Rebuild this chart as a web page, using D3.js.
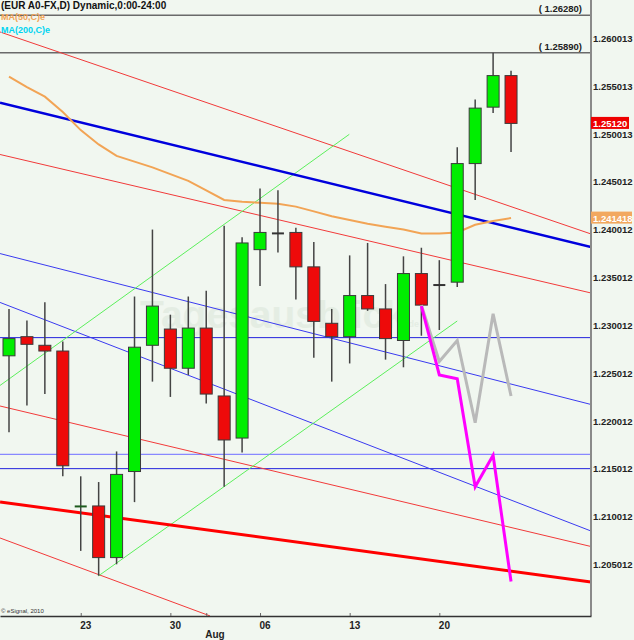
<!DOCTYPE html>
<html><head><meta charset="utf-8">
<script src="https://cdn.jsdelivr.net/npm/d3@7"></script>
<style>body{margin:0;background:#f1f7f0;} svg{display:block;}</style>
</head><body><svg id="c" width="634" height="640"></svg>
<script>
// ---------- data ----------
const dates = ["Jul 17","Jul 18","Jul 19","Jul 20","Jul 23","Jul 24","Jul 25","Jul 26","Jul 27","Jul 30","Jul 31",
  "Aug 01","Aug 02","Aug 03","Aug 06","Aug 07","Aug 08","Aug 09","Aug 10","Aug 13","Aug 14","Aug 15","Aug 16","Aug 17",
  "Aug 20","Aug 21","Aug 22","Aug 23","Aug 24"];
const open  = [1.2272,1.2292,1.2283,1.2277,1.2114,1.2115,1.2061,1.2151,1.2283,1.2300,1.2259,1.2301,1.2230,1.2186,1.2383,1.2400,1.2401,1.2365,1.2306,1.2292,1.2335,1.2321,1.2288,1.2358,1.2346,1.2349,1.2473,1.2532,1.2565];
const high  = [1.2321,1.2309,1.2328,1.2287,1.2146,1.2140,1.2172,1.2334,1.2404,1.2315,1.2334,1.2340,1.2408,1.2396,1.2447,1.2445,1.2406,1.2391,1.2321,1.2377,1.2390,1.2347,1.2376,1.2385,1.2372,1.2490,1.2540,1.2589,1.2570];
const low   = [1.2192,1.2220,1.2232,1.2146,1.2068,1.2042,1.2054,1.2119,1.2245,1.2229,1.2252,1.2222,1.2135,1.2171,1.2345,1.2380,1.2331,1.2270,1.2245,1.2264,1.2319,1.2268,1.2260,1.2293,1.2299,1.2344,1.2435,1.2526,1.2485];
const close = [1.2290,1.2284,1.2277,1.2157,1.2115,1.2061,1.2148,1.2281,1.2324,1.2259,1.2301,1.2232,1.2184,1.2390,1.2401,1.2400,1.2365,1.2308,1.2292,1.2335,1.2321,1.2290,1.2358,1.2325,1.2346,1.2473,1.2531,1.2565,1.2515];
const ma50  = [1.2564,1.2553,1.2543,1.2527,1.2508,1.2493,1.2481,1.2475,1.2469,1.2462,1.2455,1.2445,1.2435,1.2433,1.2432,1.2431,1.2428,1.2423,1.2418,1.2414,1.2410,1.2407,1.2404,1.2400,1.2400,1.2401,1.2409,1.2413,1.2416];

const forecastIdx   = [23,24,25,26,27,28];
const forecastPink  = [1.2324,1.2252,1.2248,1.2135,1.2168,1.2036];
const forecastGray  = [1.2325,1.2266,1.2288,1.2202,1.2316,1.2230];

// trend lines: [index1, price1, index2, price2]
const trendRed      = [[-0.5,1.26106,32.46,1.23994],[-0.5,1.24825,32.46,1.23377],[-0.5,1.22195,32.46,1.20726],[-0.5,1.20815,11.21,1.20000]];
const trendRedBold  = [[-0.5,1.21192,32.46,1.20355]];
const trendBlueBold = [[-0.5,1.25367,32.46,1.23858]];
const trendBlue     = [[-0.5,1.23789,32.46,1.22211],[-0.5,1.23278,32.46,1.20888]];
const trendGreen    = [[-0.5,1.22410,18.98,1.25036],[5,1.2042,25,1.23084]];
const hLinesBlue    = [1.2291,1.2154];
const hLinesLight   = [1.2169];
const levels        = [1.26280,1.25890];
const levelLabels   = ["( 1.26280)","( 1.25890)"];

const yTickLabels = ["1.260013","1.255013","1.250013","1.245012","1.240012","1.235012","1.230012","1.225012","1.220012","1.215012","1.210012","1.205012"];
const xTickIdx    = [4,9,11,14,19,24];
const xTickLabels = ["23","30","","06","13","20"];
const lastCloseLabel = "1.25120";
const maLabel = "1.241418";

// ---------- scales ----------
const W = 591, B = 616;
const x = d3.scaleLinear().domain([-0.502, 32.46]).range([0, W]);
const y = d3.scaleLinear().domain([1.205012, 1.260013]).range([568, 42]);

const svg = d3.select("#c");
svg.append("rect").attr("width",634).attr("height",640).attr("fill","#f1f7f0");
svg.append("defs").append("clipPath").attr("id","clip").append("rect").attr("x",0).attr("y",0).attr("width",W).attr("height",B);

const font = "'Liberation Sans', Arial, sans-serif";

// watermark
const wm = svg.append("text").attr("x",140).attr("y",328)
  .attr("font-family",font).attr("font-weight","bold").attr("fill","#dbe6da").attr("opacity",0.55);
wm.append("tspan").attr("font-size",39).text("Tagesausblick");
wm.append("tspan").attr("font-size",9).attr("dy",-1).text(".de");

const plot = svg.append("g").attr("clip-path","url(#clip)");

// level lines
levels.forEach(v => plot.append("line").attr("x1",0).attr("x2",W).attr("y1",y(v)).attr("y2",y(v)).attr("stroke","#6a6a6a").attr("stroke-width",1.5));

function drawTrend(arr, color, w) {
  arr.forEach(t => plot.append("line").attr("x1",x(t[0])).attr("y1",y(t[1])).attr("x2",x(t[2])).attr("y2",y(t[3]))
    .attr("stroke",color).attr("stroke-width",w));
}
hLinesBlue.forEach(v => plot.append("line").attr("x1",0).attr("x2",W).attr("y1",y(v)).attr("y2",y(v)).attr("stroke","#2222dd").attr("stroke-width",1));
hLinesLight.forEach(v => plot.append("line").attr("x1",0).attr("x2",W).attr("y1",y(v)).attr("y2",y(v)).attr("stroke","#8888ff").attr("stroke-width",1.2));
drawTrend(trendRed, "#f23a3a", 1);
drawTrend(trendBlue, "#3a3af0", 1);
drawTrend(trendGreen, "#5cef5c", 1);
drawTrend(trendBlueBold, "#0000dd", 2.5);
drawTrend(trendRedBold, "#ff0000", 3);

// MA50
plot.append("path").datum(ma50).attr("fill","none").attr("stroke","#f2a455").attr("stroke-width",2)
  .attr("d", d3.line().x((d,i)=>x(i)).y(d=>y(d)));

// candles
const cg = plot.append("g");
dates.forEach((d,i) => {
  const cx = x(i);
  cg.append("line").attr("x1",cx).attr("x2",cx).attr("y1",y(high[i])).attr("y2",y(low[i])).attr("stroke","#444").attr("stroke-width",1.5);
  const up = close[i] >= open[i];
  const top = y(Math.max(open[i],close[i])), bot = y(Math.min(open[i],close[i]));
  if (bot - top < 2) {
    cg.append("line").attr("x1",cx-6).attr("x2",cx+6).attr("y1",(top+bot)/2).attr("y2",(top+bot)/2)
      .attr("stroke", up && close[i] > open[i] ? "#1d5a1d" : "#333").attr("stroke-width",2);
  } else {
    cg.append("rect").attr("x",cx-6).attr("y",top).attr("width",12).attr("height",bot-top)
      .attr("fill", up ? "#00ee00" : "#ee0a0a").attr("stroke","#3a3a3a").attr("stroke-width",1);
  }
});

// forecasts
const fl = d3.line().x(d=>x(d[0])).y(d=>y(d[1]));
plot.append("path").datum(forecastIdx.map((k,j)=>[k,forecastGray[j]])).attr("fill","none").attr("stroke","#b9b9b9").attr("stroke-width",3).attr("d",fl);
plot.append("path").datum(forecastIdx.map((k,j)=>[k,forecastPink[j]])).attr("fill","none").attr("stroke","#ff00ff").attr("stroke-width",3).attr("d",fl);

// level labels
levels.forEach((v,k) => svg.append("text").attr("x",582).attr("y",y(v)-3).attr("text-anchor","end")
  .attr("font-family",font).attr("font-weight","bold").attr("font-size",9.5).attr("fill","#222").text(levelLabels[k]));

// right axis
svg.append("line").attr("x1",W).attr("x2",W).attr("y1",0).attr("y2",B).attr("stroke","#8a8a8a").attr("stroke-width",2);
const yAxis = d3.axisRight(y).tickValues(yTickLabels.map(Number)).tickFormat((d,k)=>yTickLabels[k]).tickSize(0).tickPadding(1);
const ya = svg.append("g").attr("transform",`translate(${W+1},0)`).call(yAxis);
ya.select(".domain").remove();
ya.selectAll("text").attr("font-family",font).attr("font-weight","bold").attr("font-size",9.5).attr("fill","#222").attr("dy","-0.05em");

// value boxes
function box(v, label, color, w) {
  const cy = y(v);
  svg.append("rect").attr("x",W).attr("y",cy-6.5).attr("width",w).attr("height",12).attr("fill",color);
  svg.append("text").attr("x",W+2).attr("y",cy+3.5).attr("font-family",font).attr("font-weight","bold").attr("font-size",9.5).attr("fill","#fff").text(label);
}
box(close[close.length-1], lastCloseLabel, "#ee0000", 38);
box(ma50[ma50.length-1], maLabel, "#f2a860", 41);

// bottom axis
const xAxis = d3.axisBottom(x).tickValues(xTickIdx).tickFormat((d,k)=>xTickLabels[k]).tickSizeInner(-3).tickSizeOuter(0).tickPadding(6);
const xa = svg.append("g").attr("transform",`translate(0,${B})`).call(xAxis);
xa.select(".domain").attr("stroke","#333").attr("stroke-width",1.5);
xa.selectAll(".tick line").attr("stroke","#666");
xa.selectAll("text").attr("font-family",font).attr("font-weight","bold").attr("font-size",10).attr("fill","#222").attr("text-anchor","start").attr("dx",-1);
svg.append("text").attr("x",x(11)-1).attr("y",638).attr("font-family",font).attr("font-weight","bold").attr("font-size",10).attr("fill","#222").text("Aug");

// header / legend
svg.append("text").attr("x",1).attr("y",9).attr("font-family",font).attr("font-weight","bold").attr("font-size",10).attr("fill","#111").text("(EUR A0-FX,D) Dynamic,0:00-24:00");
svg.append("text").attr("x",1).attr("y",20).attr("font-family",font).attr("font-weight","bold").attr("font-size",9).attr("fill","#f2a455").text("MA(50,C)e");
svg.append("text").attr("x",1).attr("y",33).attr("font-family",font).attr("font-weight","bold").attr("font-size",9).attr("fill","#00d4f0").text("MA(200,C)e");
svg.append("text").attr("x",1).attr("y",613).attr("font-family",font).attr("font-size",6).attr("fill","#333").text("© eSignal, 2010");
</script></body></html>
